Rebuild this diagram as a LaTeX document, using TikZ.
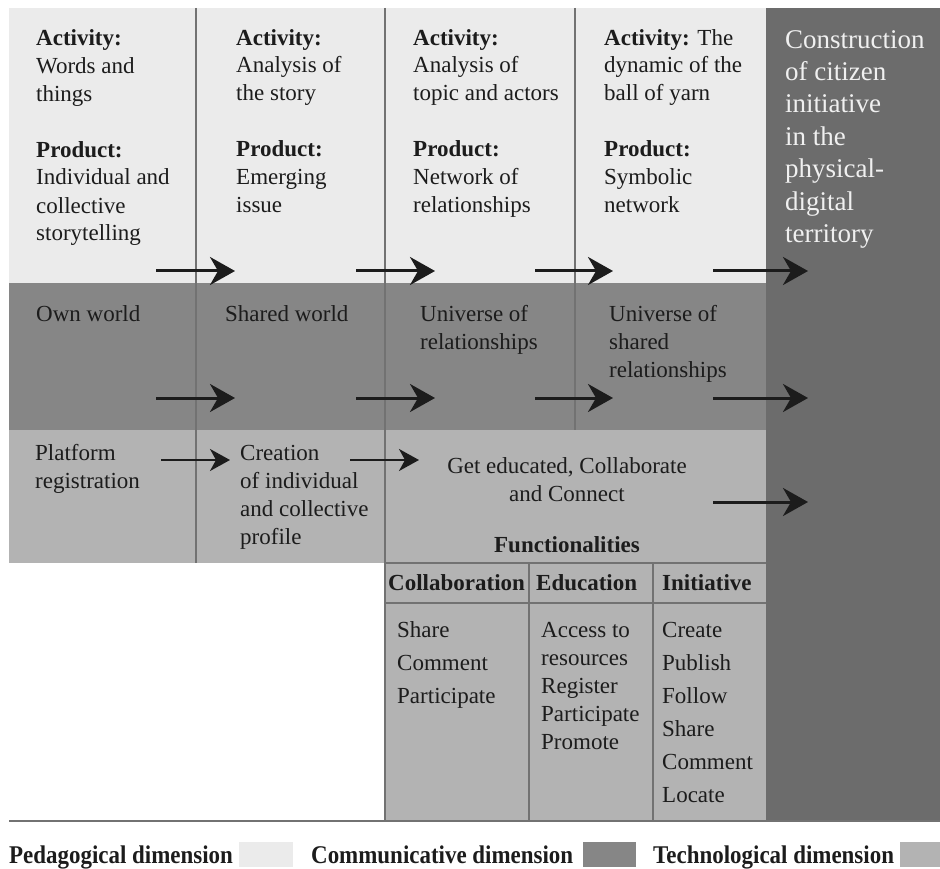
\documentclass[tikz,border=0pt]{standalone}
\usepackage{fontspec}
\setmainfont{Liberation Serif}
\newfontfamily\legendfont[FakeStretch=0.9]{Liberation Serif}
\usetikzlibrary{arrows.meta}

\definecolor{pedgray}{HTML}{EBEBEB}
\definecolor{comgray}{HTML}{868686}
\definecolor{techgray}{HTML}{B3B3B3}
\definecolor{citgray}{HTML}{6C6C6C}
\definecolor{rulegray}{HTML}{727272}
\definecolor{ink}{HTML}{1C1C1C}

\begin{document}
\begin{tikzpicture}[x=1pt,y=-1pt]
\useasboundingbox (0,0) rectangle (940,869);

\tikzstyle{region}=[draw=none,outer sep=0pt,inner sep=0pt,anchor=north west]
\tikzstyle{divider}=[rulegray,line width=1.5pt]
% multi-line text sits on the baseline of its last line
\tikzstyle{txt}=[ink,inner sep=0pt,anchor=base west,align=left,font=\fontsize{23}{28}\selectfont]
\tikzstyle{flow}=[ink,line width=3pt,-{Stealth[length=25pt,width=28pt,inset=8pt]}]
\tikzstyle{smallflow}=[ink,line width=2pt,-{Stealth[length=20pt,width=22pt,inset=6pt]}]

%bands
\node (ped) [region,fill=pedgray,minimum width=757pt,minimum height=275pt] at (9,8) {};
\node (com) [region,fill=comgray,minimum width=757pt,minimum height=147pt] at (9,283) {};
\node (tech) [region,fill=techgray,minimum width=757pt,minimum height=133pt] at (9,430) {};
\node (func) [region,fill=techgray,minimum width=381pt,minimum height=257pt] at (385,563) {};
\node (citizen) [region,fill=citgray,minimum width=174pt,minimum height=812pt] at (766,8) {};

%column lines
\draw[divider] (196,8) -- (196,563);
\draw[divider] (385,8) -- (385,820);
\draw[divider] (575,8) -- (575,430);
\draw[divider] (385,563) -- (766,563);
\draw[divider] (385,603) -- (766,603);
\draw[divider] (529,563) -- (529,820);
\draw[divider] (653,563) -- (653,820);
\draw[rulegray,line width=2.2pt] (9,821) -- (940,821);

%pedagogical
\node (act1) [txt] at (36,241) {\textbf{Activity:}\\Words and\\things\\[28pt]\textbf{Product:}\\Individual and\\collective\\storytelling};
\node (act2) [txt] at (236,213) {\textbf{Activity:}\\Analysis of\\the story\\[28pt]\textbf{Product:}\\Emerging\\issue};
\node (act3) [txt] at (413,213) {\textbf{Activity:}\\Analysis of\\topic and actors\\[28pt]\textbf{Product:}\\Network of\\relationships};
\node (act4) [txt] at (604,213) {\textbf{Activity:} The\\dynamic of the\\ball of yarn\\[28pt]\textbf{Product:}\\Symbolic\\network};
\node (goal) [txt,white!94!black,font=\fontsize{27}{32.5}\selectfont] at (785,243) {Construction\\of citizen\\initiative\\in the\\physical-\\digital\\territory};

%communicative
\node (own) [txt] at (36,321) {Own world};
\node (shared) [txt] at (225,321) {Shared world};
\node (univ) [txt] at (420,349) {Universe of\\relationships};
\node (univshared) [txt] at (609,377) {Universe of\\shared\\relationships};

%technological
\node (reg) [txt] at (35,488) {Platform\\registration};
\node (profile) [txt] at (240,544) {Creation\\of individual\\and collective\\profile};
\node (edu) [txt,anchor=base,align=center] at (567,501) {Get educated, Collaborate\\and Connect};
\node (functions) [txt,anchor=base] at (567,552) {\textbf{Functionalities}};
\node (colhead) [txt] at (388,590) {\textbf{Collaboration}};
\node (eduhead) [txt] at (536,590) {\textbf{Education}};
\node (inihead) [txt] at (662,590) {\textbf{Initiative}};
\node (collist) [txt,font=\fontsize{23}{33}\selectfont] at (397,703) {Share\\Comment\\Participate};
\node (edulist) [txt] at (541,749) {Access to\\resources\\Register\\Participate\\Promote};
\node (inilist) [txt,font=\fontsize{23}{33}\selectfont] at (662,802) {Create\\Publish\\Follow\\Share\\Comment\\Locate};

%arrows
\coordinate (p1a) at (156,271); \coordinate (p1b) at (235,271);
\coordinate (p2a) at (356,271); \coordinate (p2b) at (435,271);
\coordinate (p3a) at (535,271); \coordinate (p3b) at (613,271);
\coordinate (p4a) at (713,271); \coordinate (p4b) at (808,271);
\coordinate (c1a) at (156,398); \coordinate (c1b) at (235,398);
\coordinate (c2a) at (356,398); \coordinate (c2b) at (435,398);
\coordinate (c3a) at (535,398); \coordinate (c3b) at (613,398);
\coordinate (c4a) at (713,398); \coordinate (c4b) at (808,398);
\coordinate (t1a) at (161,460); \coordinate (t1b) at (230,460);
\coordinate (t2a) at (350,460); \coordinate (t2b) at (419,460);
\coordinate (t3a) at (713,502); \coordinate (t3b) at (808,502);
\draw[flow] (p1a) -- (p1b);
\draw[flow] (p2a) -- (p2b);
\draw[flow] (p3a) -- (p3b);
\draw[flow] (p4a) -- (p4b);
\draw[flow] (c1a) -- (c1b);
\draw[flow] (c2a) -- (c2b);
\draw[flow] (c3a) -- (c3b);
\draw[flow] (c4a) -- (c4b);
\draw[smallflow] (t1a) -- (t1b);
\draw[smallflow] (t2a) -- (t2b);
\draw[flow] (t3a) -- (t3b);

%legend
\node (pedkey) [txt,font=\legendfont\fontsize{25.5}{28}\selectfont\bfseries] at (9,863) {Pedagogical dimension};
\node (pedbox) [region,fill=pedgray,minimum width=54pt,minimum height=25pt] at (239,842) {};
\node (comkey) [txt,font=\legendfont\fontsize{25.5}{28}\selectfont\bfseries] at (311,863) {Communicative dimension};
\node (combox) [region,fill=comgray,minimum width=53pt,minimum height=25pt] at (583,842) {};
\node (techkey) [txt,font=\legendfont\fontsize{25.5}{28}\selectfont\bfseries] at (653,863) {Technological dimension};
\node (techbox) [region,fill=techgray,minimum width=40pt,minimum height=25pt] at (900,842) {};
\end{tikzpicture}
\end{document}
